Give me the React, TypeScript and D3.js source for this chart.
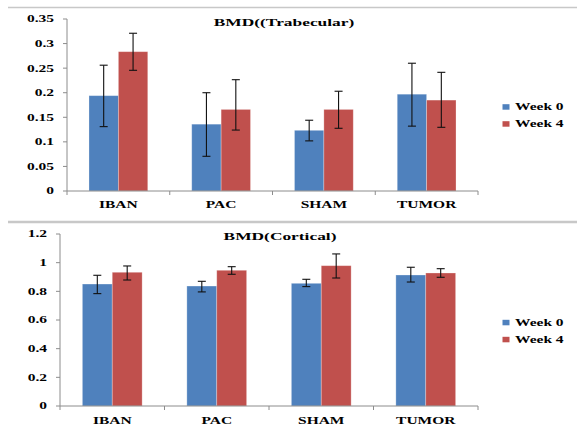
import * as d3 from "d3";

const categories = ["IBAN", "PAC", "SHAM", "TUMOR"];
const series = ["Week 0", "Week 4"];
const colors = ["#4F81BD", "#C0504D"];

// BMD (Trabecular)
const trabMean = [
  [0.194, 0.136, 0.1235, 0.197],
  [0.2835, 0.166, 0.166, 0.185],
];
const trabLow = [
  [0.131, 0.0706, 0.102, 0.132],
  [0.2456, 0.124, 0.1276, 0.1296],
];
const trabHigh = [
  [0.256, 0.2, 0.144, 0.26],
  [0.321, 0.2265, 0.203, 0.2415],
];
const trabTicks = [0, 0.05, 0.1, 0.15, 0.2, 0.25, 0.3, 0.35];

// BMD (Cortical)
const cortMean = [
  [0.851, 0.837, 0.856, 0.914],
  [0.933, 0.947, 0.979, 0.928],
];
const cortLow = [
  [0.784, 0.796, 0.833, 0.865],
  [0.879, 0.919, 0.893, 0.898],
];
const cortHigh = [
  [0.912, 0.87, 0.884, 0.968],
  [0.977, 0.972, 1.061, 0.958],
];
const cortTicks = [0, 0.2, 0.4, 0.6, 0.8, 1, 1.2];

const FONT = "'Liberation Serif', 'Times New Roman', serif";
const SX = 1.55;

function Label({ x, y, children, anchor = "middle", size = 10, sx = SX }) {
  return (
    <text
      transform={`translate(${x},${y}) scale(${sx},1)`}
      textAnchor={anchor}
      dominantBaseline="central"
      fontFamily={FONT}
      fontWeight="bold"
      fontSize={size}
      fill="#000"
    >
      {children}
    </text>
  );
}

function Panel({ title, mean, low, high, ticks, left, top, bottom, titleX, titleY, legendY, labelY }) {
  const right = 478;
  const x0 = d3.scaleBand().domain(categories).range([left, right]).padding(0);
  const bw = x0.bandwidth();
  const x1 = d3.scaleBand().domain(series).range([bw * 0.214, bw * 0.786]).padding(0);
  const y = d3
    .scaleLinear()
    .domain([0, ticks[ticks.length - 1]])
    .range([bottom, top]);
  const axisColor = "#8c8c8c";

  return (
    <g>
      <Label x={titleX} y={titleY} size={11} sx={1.58}>
        {title}
      </Label>

      {/* y axis */}
      <line x1={left} x2={left} y1={y(0)} y2={y(ticks[ticks.length - 1])} stroke={axisColor} />
      {ticks.map((t) => (
        <g key={t}>
          <line x1={left - 4} x2={left} y1={y(t)} y2={y(t)} stroke={axisColor} />
          <Label x={left - 13} y={y(t)} anchor="end">
            {String(+t.toFixed(2))}
          </Label>
        </g>
      ))}

      {/* bars */}
      {series.map((s, si) =>
        categories.map((c, ci) => (
          <rect
            key={s + c}
            x={x0(c) + x1(s)}
            y={y(mean[si][ci])}
            width={x1.bandwidth()}
            height={y(0) - y(mean[si][ci])}
            fill={colors[si]}
            stroke="#fff"
            strokeOpacity={0.35}
            strokeWidth={0.8}
          />
        ))
      )}

      {/* error bars */}
      {series.map((s, si) =>
        categories.map((c, ci) => {
          const cx = x0(c) + x1(s) + x1.bandwidth() / 2;
          const y1 = y(low[si][ci]);
          const y2 = y(high[si][ci]);
          return (
            <g key={"e" + s + c} stroke="#111" strokeWidth={1.1}>
              <line x1={cx} x2={cx} y1={y1} y2={y2} />
              <line x1={cx - 4} x2={cx + 4} y1={y1} y2={y1} />
              <line x1={cx - 4} x2={cx + 4} y1={y2} y2={y2} />
            </g>
          );
        })
      )}

      {/* x axis */}
      <line x1={left} x2={right} y1={y(0)} y2={y(0)} stroke={axisColor} />
      {[...categories.map((c) => x0(c)), right].map((t, i) => (
        <line key={i} x1={t} x2={t} y1={y(0)} y2={y(0) + 4} stroke={axisColor} />
      ))}
      {categories.map((c) => (
        <Label key={c} x={x0(c) + bw / 2} y={labelY}>
          {c}
        </Label>
      ))}

      {/* legend */}
      {series.map((s, si) => (
        <g key={s}>
          <rect x={502.5} y={legendY + si * 17 - 2.5} width={7} height={5.5} fill={colors[si]} />
          <Label x={515} y={legendY + si * 17} anchor="start">
            {s}
          </Label>
        </g>
      ))}
    </g>
  );
}

export default function App() {
  return (
    <svg
      width={577}
      height={432}
      style={{ position: "absolute", left: 0, top: 0, background: "#fff" }}
    >
      <rect width={577} height={432} fill="#fff" />
      <line x1={8} x2={577} y1={7.5} y2={7.5} stroke="#c8c8c8" strokeWidth={1.5} />
      <line x1={8} x2={577} y1={222} y2={222} stroke="#c8c8c8" strokeWidth={2.5} />
      <Panel
        title="BMD((Trabecular)"
        mean={trabMean}
        low={trabLow}
        high={trabHigh}
        ticks={trabTicks}
        left={67}
        top={19}
        bottom={191}
        titleX={284}
        titleY={22.5}
        legendY={106.7}
        labelY={205}
      />
      <Panel
        title="BMD(Cortical)"
        mean={cortMean}
        low={cortLow}
        high={cortHigh}
        ticks={cortTicks}
        left={60}
        top={234}
        bottom={406}
        titleX={280}
        titleY={236.7}
        legendY={322.3}
        labelY={420.7}
      />
    </svg>
  );
}
